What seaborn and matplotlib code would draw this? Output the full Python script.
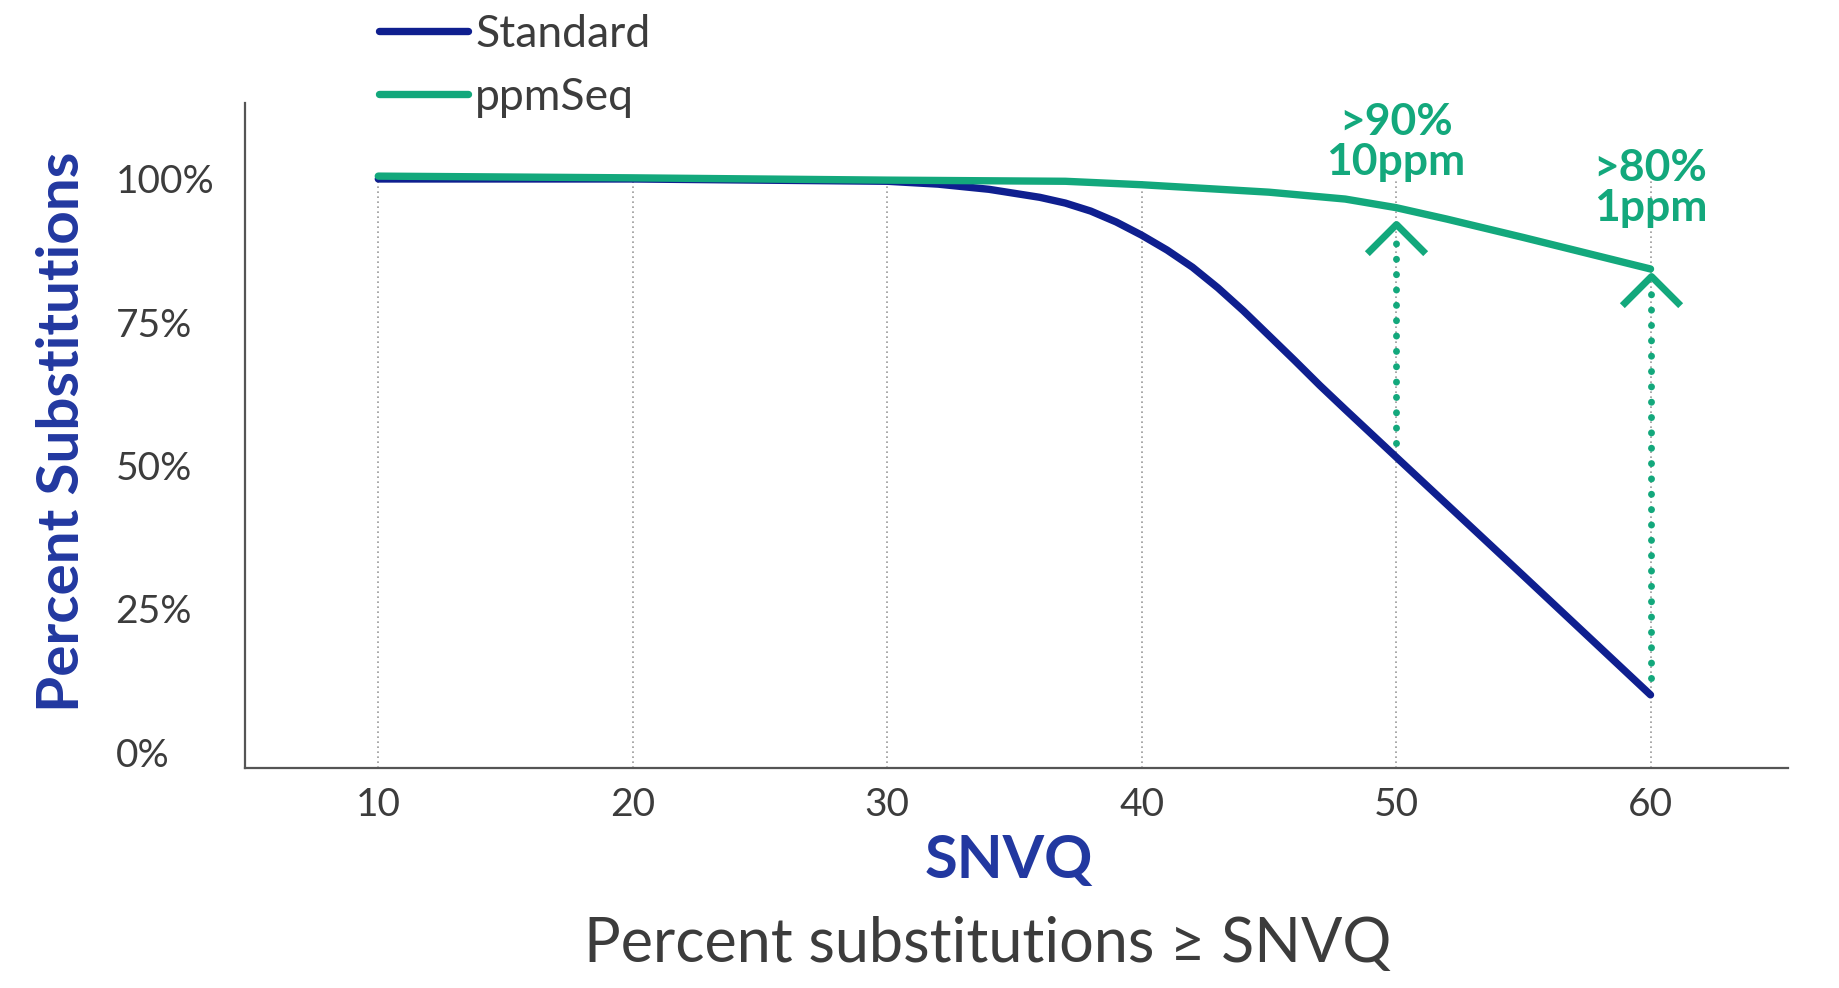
import matplotlib
matplotlib.use("Agg")
import matplotlib.pyplot as plt
from matplotlib.path import Path
import seaborn as sns
import pandas as pd

# dane
snvq = [10, 20, 30, 32, 34, 36, 37, 38, 39, 40, 41, 42, 43, 44, 45, 46, 47, 48, 50, 55, 60]
standard = [100, 100, 99.6, 99.1, 98.2, 96.8, 95.8, 94.4, 92.5, 90.2, 87.6, 84.6, 81, 77, 72.7,
            68.4, 64, 59.8, 51.5, 30.8, 10]
snvq_ppm = [10, 20, 30, 37, 40, 45, 48, 50, 52, 55, 60]
ppmseq = [100.5, 100.2, 99.8, 99.6, 99.0, 97.7, 96.5, 95, 93, 89.8, 84.3]

xticks = [10, 20, 30, 40, 50, 60]
yticks = [0, 25, 50, 75, 100]
ytick_labels = ["0%", "25%", "50%", "75%", "100%"]

# adnotacje: x, szczyt strzalki, dol kropek, tekst, y tekstu
ann_x = [50, 60]
ann_tip = [92.2, 83.0]
ann_low = [54, 13]
ann_text = [">90%\n10ppm", ">80%\n1ppm"]
ann_text_y = [106.5, 98.5]

blue = "#0f1f8f"
green = "#13a87c"
label_blue = "#2238a0"
gray = "#3c3c3c"

sns.set_style("white")
plt.rcParams['font.family'] = ['Lato', 'DejaVu Sans']

df = pd.concat([
    pd.DataFrame({"SNVQ": snvq, "val": standard, "series": "Standard"}),
    pd.DataFrame({"SNVQ": snvq_ppm, "val": ppmseq, "series": "ppmSeq"}),
])

fig = plt.figure(figsize=(18.4, 9.88), dpi=100)
ax = fig.add_axes([0.133, 0.223, 0.8387, 0.673])

# siatka pionowa do 100%
ax.vlines(xticks, -2.7, 100, colors="#9a9a9a", linestyles=(0, (1, 2)), linewidth=1.2, zorder=0)

sns.lineplot(data=df, x="SNVQ", y="val", hue="series", palette={"Standard": blue, "ppmSeq": green},
             linewidth=5.3, ax=ax, legend=False, sort=False)

chevron = Path([(-1, -1), (0, 0), (1, -1)], [Path.MOVETO, Path.LINETO, Path.LINETO])
for x, tip, low, txt, ty in zip(ann_x, ann_tip, ann_low, ann_text, ann_text_y):
    ax.plot([x, x], [low, tip - 2.2], color=green, linewidth=5, linestyle=(0, (0.01, 2.2)),
            dash_capstyle="round")
    ax.plot([x], [tip], marker=chevron, markersize=42, markeredgewidth=5, markeredgecolor=green,
            markerfacecolor="none", linestyle="none")
    ax.text(x, ty, txt, color=green, fontsize=32, fontweight="bold", ha="center", va="center",
            linespacing=1.0)

ax.set_xlim(4.75, 65.4)
ax.set_ylim(-2.7, 113.3)
ax.set_xticks(xticks)
ax.set_yticks(yticks)
ax.set_yticklabels(ytick_labels)
ax.tick_params(axis="both", length=0, labelsize=28, labelcolor=gray)
ax.tick_params(axis="x", pad=14)
ax.tick_params(axis="y", pad=93)
for lab in ax.get_yticklabels():
    lab.set_horizontalalignment("left")

for s in ["top", "right"]:
    ax.spines[s].set_visible(False)
for s in ["left", "bottom"]:
    ax.spines[s].set_color("#555555")
    ax.spines[s].set_linewidth(1.6)

ax.set_xlabel("SNVQ", fontsize=43, fontweight="bold", color=label_blue)
ax.xaxis.set_label_coords(0.495, -0.14)
ax.xaxis.label.set_va("center")
ax.set_ylabel("Percent Substitutions", fontsize=42, fontweight="bold", color=label_blue)
ax.yaxis.set_label_coords(-0.118, 0.505)
ax.yaxis.label.set_va("center")

fig.text(0.537, 0.0445, "Percent substitutions \u2265 SNVQ", fontsize=44, color=gray,
         ha="center", va="center")

handles = [plt.Line2D([], [], color=blue, linewidth=5.3), plt.Line2D([], [], color=green, linewidth=5.3)]
fig.legend(handles, ["Standard", "ppmSeq"], loc="upper left", bbox_to_anchor=(0.206, 0.986),
           frameon=False, fontsize=32, labelcolor=gray, handlelength=2.0, handletextpad=0.16,
           labelspacing=0.5, borderpad=0, borderaxespad=0)

fig.savefig("out.png", dpi=100)
